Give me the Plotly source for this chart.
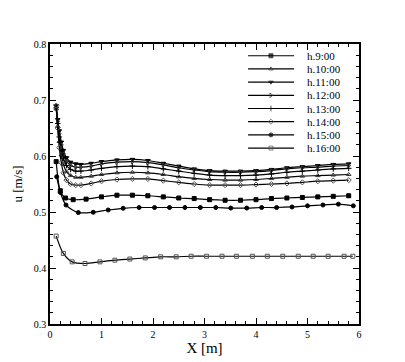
import plotly.graph_objects as go

# x positions (m)
x_upper = [0.12, 0.15, 0.18, 0.22, 0.26, 0.32, 0.4, 0.5, 0.6, 0.8, 1.0, 1.3, 1.6, 1.9,
           2.2, 2.5, 2.8, 3.1, 3.4, 3.7, 4.0, 4.3, 4.6, 4.9, 5.2, 5.5, 5.8]
x_h9 = [0.12, 0.2, 0.3, 0.45, 0.7, 1.0, 1.3, 1.6, 1.9, 2.2, 2.5, 2.8, 3.1, 3.4, 3.7,
        4.0, 4.3, 4.6, 4.9, 5.2, 5.5, 5.8]
x_h15 = [0.13, 0.2, 0.31, 0.55, 0.84, 1.13, 1.42, 1.73, 2.03, 2.32, 2.62, 2.92, 3.22,
         3.51, 3.82, 4.11, 4.40, 4.70, 5.0, 5.3, 5.6, 5.89]
x_h16 = [0.12, 0.26, 0.43, 0.68, 0.97, 1.26, 1.55, 1.85, 2.15, 2.45, 2.74, 3.04, 3.34,
         3.62, 3.93, 4.22, 4.52, 4.82, 5.11, 5.40, 5.71, 5.88]

# u (m/s)
u_h9 = [0.590, 0.538, 0.525, 0.522, 0.523, 0.527, 0.530, 0.530, 0.529, 0.527, 0.525,
        0.524, 0.522, 0.521, 0.521, 0.522, 0.524, 0.525, 0.526, 0.527, 0.528, 0.529]
u_h10 = [0.684, 0.653, 0.626, 0.602, 0.585, 0.572, 0.565, 0.562, 0.562, 0.564, 0.567,
         0.570, 0.571, 0.570, 0.567, 0.563, 0.560, 0.558, 0.557, 0.557, 0.558, 0.560,
         0.562, 0.564, 0.565, 0.566, 0.567]
u_h11 = [0.690, 0.665, 0.645, 0.625, 0.610, 0.597, 0.589, 0.586, 0.585, 0.587, 0.590,
         0.593, 0.594, 0.592, 0.587, 0.582, 0.577, 0.574, 0.573, 0.573, 0.574, 0.576,
         0.579, 0.581, 0.583, 0.585, 0.586]
u_h12 = [0.688, 0.662, 0.640, 0.620, 0.604, 0.591, 0.583, 0.580, 0.580, 0.582, 0.586,
         0.589, 0.590, 0.588, 0.584, 0.579, 0.575, 0.572, 0.571, 0.571, 0.572, 0.574,
         0.577, 0.579, 0.580, 0.582, 0.583]
u_h13 = [0.686, 0.658, 0.634, 0.612, 0.596, 0.583, 0.576, 0.573, 0.573, 0.575, 0.578,
         0.581, 0.582, 0.581, 0.577, 0.573, 0.569, 0.566, 0.565, 0.565, 0.566, 0.568,
         0.571, 0.573, 0.575, 0.577, 0.578]
u_h14 = [0.690, 0.650, 0.615, 0.588, 0.570, 0.557, 0.550, 0.548, 0.548, 0.551, 0.555,
         0.558, 0.559, 0.559, 0.556, 0.553, 0.550, 0.548, 0.548, 0.548, 0.549, 0.550,
         0.551, 0.553, 0.555, 0.556, 0.557]
u_h15 = [0.563, 0.535, 0.5125, 0.499, 0.4995, 0.5036, 0.5066, 0.508, 0.508, 0.508,
         0.508, 0.508, 0.508, 0.507, 0.507, 0.508, 0.508, 0.509, 0.511, 0.5125, 0.514, 0.511]
u_h16 = [0.457, 0.426, 0.411, 0.408, 0.411, 0.414, 0.416, 0.418, 0.420, 0.420, 0.421,
         0.421, 0.421, 0.421, 0.421, 0.421, 0.421, 0.421, 0.421, 0.421, 0.421, 0.421]

series = [
    ("h.9:00", x_h9, u_h9, "square", "black"),
    ("h.10:00", x_upper, u_h10, "triangle-up-open", "#333333"),
    ("h.11:00", x_upper, u_h11, "triangle-down", "black"),
    ("h.12:00", x_upper, u_h12, "triangle-right-open", "#333333"),
    ("h.13:00", x_upper, u_h13, "cross-thin-open", "black"),
    ("h.14:00", x_upper, u_h14, "diamond-open", "#555555"),
    ("h.15:00", x_h15, u_h15, "circle", "black"),
    ("h.16:00", x_h16, u_h16, "square-open", "#555555"),
]

font = "Liberation Serif, Times New Roman, serif"
fig = go.Figure()
for name, xs, ys, sym, mcol in series:
    fig.add_trace(go.Scatter(
        x=xs, y=ys, name=name, mode="lines+markers", showlegend=False,
        line=dict(color="black", width=1.2, shape="spline", smoothing=0.8),
        marker=dict(symbol=sym, size=4, color=mcol, line=dict(color=mcol, width=1)),
    ))

# hand-built legend (tighter row spacing than plotly's legend allows)
leg_top, leg_step = 0.958, 0.0471
for i, (name, xs, ys, sym, mcol) in enumerate(series):
    yy = leg_top - i * leg_step
    fig.add_trace(go.Scatter(
        x=[0.641, 0.715, 0.79], y=[yy, yy, yy], xaxis="x2", yaxis="y2",
        mode="lines+markers", showlegend=False, hoverinfo="skip",
        line=dict(color="black", width=1.2),
        marker=dict(symbol=sym, size=[0, 4, 0], color=mcol, line=dict(color=mcol, width=1)),
    ))
    fig.add_annotation(x=0.825, y=yy, xref="paper", yref="paper", text=name,
                       showarrow=False, xanchor="left", yanchor="middle",
                       font=dict(family=font, size=11, color="black"))

axis_common = dict(
    showgrid=False, zeroline=False, showline=True, linecolor="black", linewidth=1.5,
    mirror="ticks", ticks="inside", ticklen=6, tickwidth=1, tickcolor="black",
    tickfont=dict(family=font, size=10, color="black"),
)

fig.update_layout(
    width=405, height=362,
    template="none",
    plot_bgcolor="white", paper_bgcolor="white",
    margin=dict(l=42, r=54, t=36, b=46),
    font=dict(family=font, size=10, color="black"),
    showlegend=False,
    xaxis=dict(range=[0, 6], tickmode="linear", dtick=1, tick0=0,
               minor=dict(ticks="inside", ticklen=3, tickcolor="black", dtick=0.2),
               title=dict(text="X [m]", font=dict(family=font, size=15), standoff=2),
               **axis_common),
    yaxis=dict(range=[0.3, 0.8], tickmode="linear", dtick=0.1, tick0=0.3,
               tickformat=".1f",
               minor=dict(ticks="inside", ticklen=3, tickcolor="black", dtick=0.02),
               title=dict(text="u [m/s]", font=dict(family=font, size=13), standoff=8),
               **axis_common),
    xaxis2=dict(overlaying="x", range=[0, 1], visible=False),
    yaxis2=dict(overlaying="y", range=[0, 1], visible=False),
)

fig.write_html("out.html")
